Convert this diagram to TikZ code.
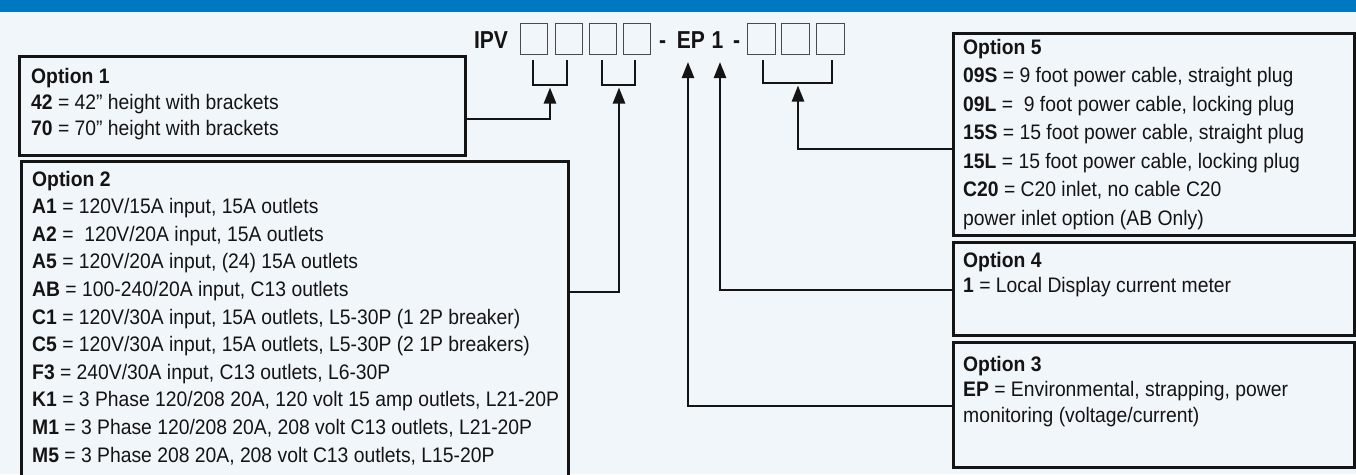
\documentclass[tikz,border=0pt]{standalone}
\usepackage{fontspec}
\setmainfont{Liberation Sans}[FakeStretch=0.92]
\newfontfamily\codefont{Liberation Sans}[FakeStretch=0.86]
\usetikzlibrary{arrows.meta}
\definecolor{bg}{HTML}{F1F6FB}
\definecolor{banner}{HTML}{0077C1}
\definecolor{ink}{HTML}{141414}
\definecolor{sq}{HTML}{4A4A4A}
\tikzset{
 optbox/.style={draw=ink, line width=2.5pt, fill=bg, inner sep=0pt, anchor=north west},
 txt/.style={anchor=base west, inner sep=0pt, font=\fontsize{21}{24}\selectfont, text=ink},
 code/.style={anchor=base, inner sep=0pt, font=\codefont\fontsize{24.5}{28}\selectfont\bfseries, text=ink},
 sqbox/.style={draw=sq, line width=1.2pt, minimum width=27pt, minimum height=31pt, inner sep=0pt, anchor=north west},
 brk/.style={draw=ink, line width=2.2pt},
 conn/.style={draw=ink, line width=2.5pt, -{Triangle[width=12pt,length=16pt]}},
}
\begin{document}
\begin{tikzpicture}[x=1pt,y=-1pt]
\useasboundingbox (0,0) rectangle (1356,474);
\clip (0,0) rectangle (1356,474);
\fill[bg] (0,0) rectangle (1356,474);
\fill[banner] (0,0) rectangle (1356,11.5);

% code row
\node[code] (ipv) at (491,48) {IPV};
\node[sqbox] (s1) at (520,23) {};
\node[sqbox] (s2) at (554.5,23) {};
\node[sqbox] (s3) at (588.5,23) {};
\node[sqbox] (s4) at (623,23) {};
\node[code] (d1) at (662.5,48) {-};
\node[code] (ep) at (690.8,48) {EP};
\node[code] (one) at (717.5,48) {1};
\node[code] (d2) at (736.5,48) {-};
\node[sqbox, minimum width=28pt] (s5) at (747,23) {};
\node[sqbox, minimum width=28pt] (s6) at (781,23) {};
\node[sqbox, minimum width=28pt] (s7) at (815.5,23) {};

% brackets
\draw[brk] (533,60) |- (567,85) -- (567,60);
\draw[brk] (602,60) |- (635,85) -- (635,60);
\draw[brk] (763,60) |- (832,83) -- (832,60);
\coordinate (b1) at (550,87.5);
\coordinate (b2) at (619,87.5);
\coordinate (b3) at (798,85.5);
\coordinate (t4) at (720,62);
\coordinate (t3) at (688,62);

% option boxes
\node[optbox, minimum width=446pt, minimum height=99pt] (o1) at (18,55) {};
\node[optbox, minimum width=547pt, minimum height=340pt] (o2) at (20,160) {};
\node[optbox, minimum width=401pt, minimum height=202pt] (o5) at (952,32) {};
\node[optbox, minimum width=401pt, minimum height=93pt] (o4) at (952,241) {};
\node[optbox, minimum width=401pt, minimum height=125pt] (o3) at (952,341) {};

% texts
\foreach \t [count=\i] in {{\textbf{Option 1}},
  {\textbf{42} = 42” height with brackets},
  {\textbf{70} = 70” height with brackets}}
  \node[txt] (o1l\i) at (31,{83.5+(\i-1)*25.8}) {\t};

\foreach \t [count=\i] in {{\textbf{Option 2}},
  {\textbf{A1} = 120V/15A input, 15A outlets},
  {\textbf{A2} = \ 120V/20A input, 15A outlets},
  {\textbf{A5} = 120V/20A input, (24) 15A outlets},
  {\textbf{AB} = 100-240/20A input, C13 outlets},
  {\textbf{C1} = 120V/30A input, 15A outlets, L5-30P (1 2P breaker)},
  {\textbf{C5} = 120V/30A input, 15A outlets, L5-30P (2 1P breakers)},
  {\textbf{F3} = 240V/30A input, C13 outlets, L6-30P},
  {\textbf{K1} = 3 Phase 120/208 20A, 120 volt 15 amp outlets, L21-20P},
  {\textbf{M1} = 3 Phase 120/208 20A, 208 volt C13 outlets, L21-20P},
  {\textbf{M5} = 3 Phase 208 20A, 208 volt C13 outlets, L15-20P}}
  \node[txt] (o2l\i) at (32,{186+(\i-1)*27.6}) {\t};

\foreach \t [count=\i] in {{\textbf{Option 5}},
  {\textbf{09S} = 9 foot power cable, straight plug},
  {\textbf{09L} = \ 9 foot power cable, locking plug},
  {\textbf{15S} = 15 foot power cable, straight plug},
  {\textbf{15L} = 15 foot power cable, locking plug},
  {\textbf{C20} = C20 inlet, no cable C20},
  {power inlet option (AB Only)}}
  \node[txt] (o5l\i) at (963,{54+(\i-1)*28.5}) {\t};

\foreach \t [count=\i] in {{\textbf{Option 4}},
  {\textbf{1} = Local Display current meter}}
  \node[txt] (o4l\i) at (963,{267+(\i-1)*25.8}) {\t};

\foreach \t [count=\i] in {{\textbf{Option 3}},
  {\textbf{EP} = Environmental, strapping, power},
  {monitoring (voltage/current)}}
  \node[txt] (o3l\i) at (963,{371+(\i-1)*25.8}) {\t};

% connectors
\coordinate (j1) at (550,119);
\coordinate (j2) at (619,292);
\coordinate (j5) at (798,149);
\coordinate (j4) at (720,290);
\coordinate (j3) at (688,406);
\draw[conn] (o1.east |- j1) -- (j1) -- (b1);
\draw[conn] (o2.east |- j2) -- (j2) -- (b2);
\draw[conn] (o5.west |- j5) -- (j5) -- (b3);
\draw[conn] (o4.west |- j4) -- (j4) -- (t4);
\draw[conn] (o3.west |- j3) -- (j3) -- (t3);
\end{tikzpicture}
\end{document}
